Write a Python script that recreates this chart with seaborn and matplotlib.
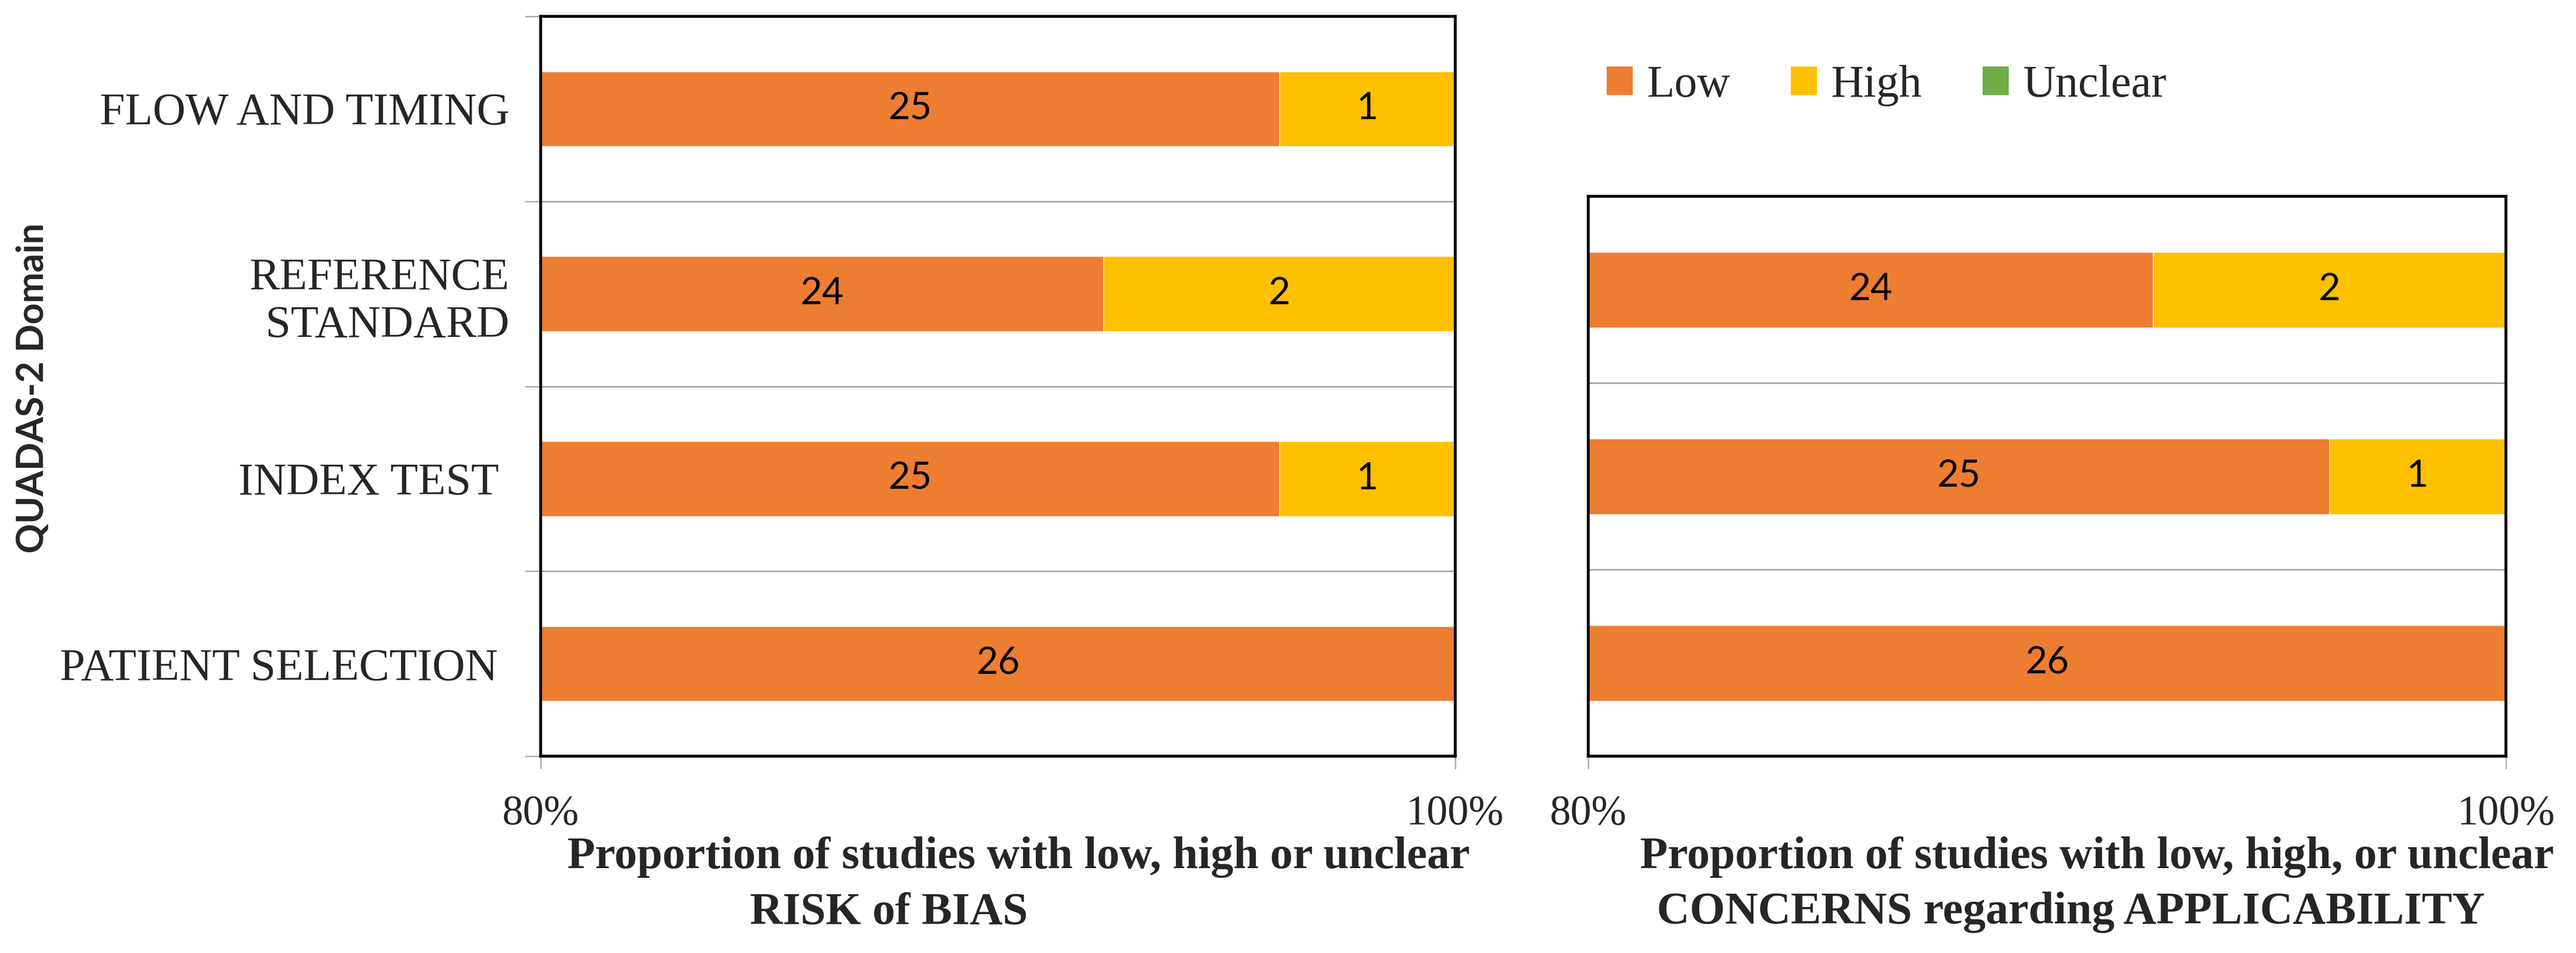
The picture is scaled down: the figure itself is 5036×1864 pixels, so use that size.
import numpy as np
import pandas as pd
import matplotlib.pyplot as plt
from matplotlib.patches import Patch
import seaborn as sns

# QUADAS-2 assessment, counts of studies (26 in total)
levels = ["Low", "High", "Unclear"]

domains_bias = ["FLOW AND TIMING", "REFERENCE\nSTANDARD", "INDEX TEST ", "PATIENT SELECTION "]
low_bias = [25, 24, 25, 26]
high_bias = [1, 2, 1, 0]
unclear_bias = [0, 0, 0, 0]

domains_appl = ["REFERENCE\nSTANDARD", "INDEX TEST ", "PATIENT SELECTION "]
low_appl = [24, 25, 26]
high_appl = [2, 1, 0]
unclear_appl = [0, 0, 0]

x_ticks = [80, 100]
x_ticklabels = ["80%", "100%"]

colors = {"Low": "#ED7D31", "High": "#FFC000", "Unclear": "#70AD47"}
grid_col = "#A6A6A6"

sns.set_style("white")
plt.rcParams['font.family'] = ['Liberation Serif', 'DejaVu Serif']

W, H = 5036, 1864
fig = plt.figure(figsize=(W / 100, H / 100), dpi=100)
ax1 = fig.add_axes([0.2099, 0.2065, 0.3550, 0.7763])
ax2 = fig.add_axes([0.6166, 0.2065, 0.3562, 0.5874])


def draw_panel(ax, domains, low, high, unclear, show_labels):
    df = pd.DataFrame({"domain": domains, "Low": low, "High": high, "Unclear": unclear})
    total = df[levels].sum(axis=1)
    pct = df[levels].div(total, axis=0) * 100
    cum = pct.cumsum(axis=1)
    # stacked bars: draw the longest cumulative first
    for lvl in reversed(levels):
        sns.barplot(x=cum[lvl], y=df["domain"], color=colors[lvl], orient="h",
                    width=0.405, saturation=1, errorbar=None, ax=ax, zorder=2)
    # counts centred on the visible part of each segment
    for i in range(len(df)):
        for lvl in levels:
            n = df.loc[i, lvl]
            if n == 0:
                continue
            left = max(cum.loc[i, lvl] - pct.loc[i, lvl], x_ticks[0])
            right = min(cum.loc[i, lvl], x_ticks[1])
            ax.text((left + right) / 2, i, str(n), ha="center", va="center",
                    fontsize=53, family="Lato", color="black", zorder=3)

    n = len(df)
    ax.set_xlim(x_ticks[0], x_ticks[1])
    ax.set_ylim(n - 0.5, -0.5)
    ax.set_xticks(x_ticks)
    ax.set_xticklabels(x_ticklabels)
    ax.set_yticks(range(n))
    ax.set_yticks(np.arange(n + 1) - 0.5, minor=True)
    ax.set_xlabel("")
    ax.set_ylabel("")
    ax.yaxis.grid(True, which="minor", color=grid_col, lw=2.2, zorder=1)
    ax.set_axisbelow(True)
    ax.tick_params(axis="x", which="major", bottom=True, length=18, width=1.8,
                   color=grid_col, pad=36, labelsize=59)
    if show_labels:
        ax.tick_params(axis="y", which="major", left=True, length=0, pad=44, labelsize=64)
        ax.tick_params(axis="y", which="minor", left=True, length=22, width=1.8, color=grid_col)
    else:
        ax.set_yticklabels([])
        ax.tick_params(axis="y", which="both", left=False, length=0)
    for sp in ax.spines.values():
        sp.set_visible(True)
        sp.set_color("black")
        sp.set_linewidth(4)
        sp.set_zorder(4)


draw_panel(ax1, domains_bias, low_bias, high_bias, unclear_bias, True)
draw_panel(ax2, domains_appl, low_appl, high_appl, unclear_appl, False)

fig.text(0.0129, 0.593, "QUADAS-2 Domain", rotation=90, ha="center", va="center",
         fontsize=52, fontweight="bold", family="Lato")

fig.text(0.3954, 0.089, "Proportion of studies with low, high or unclear",
         ha="center", va="baseline", fontsize=64, fontweight="bold")
fig.text(0.345, 0.031, "RISK of BIAS", ha="center", va="baseline", fontsize=64, fontweight="bold")
fig.text(0.814, 0.089, "Proportion of studies with low, high, or unclear",
         ha="center", va="baseline", fontsize=64, fontweight="bold")
fig.text(0.804, 0.031, "CONCERNS regarding APPLICABILITY",
         ha="center", va="baseline", fontsize=64, fontweight="bold")

handles = [Patch(facecolor=colors[l], edgecolor="none") for l in levels]
fig.legend(handles, levels, loc="center left", bbox_to_anchor=(0.6237, 0.910),
           ncol=3, frameon=False, fontsize=64, handlelength=0.57, handleheight=0.6,
           handletextpad=0.31, columnspacing=1.34, borderpad=0, borderaxespad=0)

fig.savefig("out.png", dpi=100)
